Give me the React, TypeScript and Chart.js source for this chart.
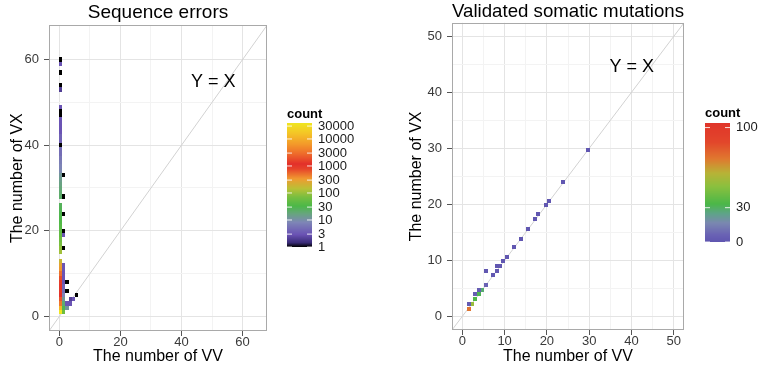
import React, { useEffect, useRef } from "react";
import { Chart, registerables } from "chart.js";

Chart.register(...registerables);

const FONT = "'Liberation Sans', Arial, Helvetica, sans-serif";

// ---------------- Left panel: Sequence errors ----------------
const seqTitle = "Sequence errors";
const seqAxisTicks = [0, 10, 20, 30, 40, 50, 60];
const seqAxisLabels = [0, 20, 40, 60];
// tiles: number of VV (bin start), number of VX, count
const seqVV = [
  0, 0, 0, 0, 0, 0, 0, 0, 0, 0, 0, 0, 0,
  0, 0, 0, 0, 0, 0, 0, 0, 0, 0, 0, 0,
  0, 0, 0, 0, 0, 0, 0, 0, 0, 0, 0, 0, 0, 0, 0, 0, 0, 0, 0, 0, 0, 0,
  0, 0, 0, 0, 0,
  1, 1, 1, 1, 1, 1, 1, 1, 1, 1, 1, 1,
  1, 1, 1, 1, 1, 1,
  2, 2, 3, 3, 4, 5, 2, 2,
];
const seqVX = [
  1, 2, 3, 4, 5, 6, 7, 8, 9, 10, 11, 12, 13,
  15, 16, 17, 18, 19, 20, 21, 22, 23, 24, 25, 26,
  28, 29, 30, 31, 32, 33, 34, 35, 36, 37, 38, 39, 40, 41, 42, 43, 44, 45, 46, 47, 48, 49,
  53, 54, 57, 59, 60,
  1, 2, 3, 4, 5, 6, 7, 8, 9, 10, 11, 12,
  16, 19, 20, 24, 28, 33,
  2, 3, 3, 4, 4, 5, 6, 8,
];
const seqCount = [
  39000, 12000, 3500, 2000, 1200, 1000, 1000, 900, 700, 500, 350, 280, 180,
  110, 90, 70, 60, 50, 45, 40, 35, 32, 30, 28, 26,
  22, 20, 18, 16, 14, 12, 9, 8, 7, 6, 5, 5, 1, 4, 4, 3, 3, 3, 3, 1, 1, 3,
  2, 1, 1, 3, 1,
  60, 30, 20, 12, 8, 5, 4, 3, 3, 3, 3, 3,
  1, 3, 1, 1, 1, 1,
  12, 3, 3, 2, 3, 1, 1, 1,
];
const seqLegendBreaks = [1, 3, 10, 30, 100, 300, 1000, 3000, 10000, 30000];
const seqCountLimits = [1, 39000];

// ---------------- Right panel: Validated somatic mutations ----------------
const mutTitle = "Validated somatic mutations";
const mutAxisTicks = [0, 5, 10, 15, 20, 25, 30, 35, 40, 45, 50];
const mutAxisLabels = [0, 10, 20, 30, 40, 50];
const mutVV = [29.7, 23.9, 20.5, 19.8, 18.0, 17.2, 15.6, 13.9, 12.3, 10.5, 9.7, 8.8, 8.1, 8.1, 7.3, 5.6, 5.6, 4.7, 3.9, 3.9, 3.1, 3.1, 2.3, 1.5, 1.5];
const mutVX = [29.8, 24.0, 20.6, 19.8, 18.2, 17.3, 15.6, 13.9, 12.3, 10.6, 9.8, 8.9, 8.9, 8.1, 7.3, 8.1, 5.6, 4.7, 4.7, 3.9, 3.9, 3.1, 2.2, 2.2, 1.3];
const mutCount = [1, 1, 1, 1, 1, 1, 1, 1, 1, 1, 1, 2, 1, 2, 1, 1, 6, 28, 4, 32, 4, 34, 52, 3, 74];
const mutLegendBreaks = [0, 30, 100];
const mutCountLimits = [0, 104];

const xTitle = "The number of VV";
const yTitle = "The number of VX";
const refLabel = "Y = X";

// ---------------- colour scales ----------------
const seqStops: [number, string][] = [
  [0.0, "#000000"],
  [0.035, "#3a2c78"],
  [0.1, "#6a52b4"],
  [0.2, "#7e86b6"],
  [0.27, "#66a67c"],
  [0.33, "#4cb848"],
  [0.4, "#76be40"],
  [0.47, "#b9c136"],
  [0.55, "#f09a30"],
  [0.63, "#e6432a"],
  [0.67, "#e3302a"],
  [0.75, "#ee6a2b"],
  [0.83, "#f39a2a"],
  [0.92, "#f4c626"],
  [1.0, "#efe620"],
];
const mutStops: [number, string][] = [
  [0.0, "#5f55b0"],
  [0.06, "#6a62b4"],
  [0.16, "#7a88b0"],
  [0.24, "#5ea487"],
  [0.32, "#4bb748"],
  [0.47, "#8cc03e"],
  [0.58, "#b8b236"],
  [0.7, "#e0782f"],
  [0.84, "#e2462b"],
  [1.0, "#e0352a"],
];

function hexRgb(h: string) {
  const n = parseInt(h.slice(1), 16);
  return [(n >> 16) & 255, (n >> 8) & 255, n & 255];
}
function gradient(stops: [number, string][], t: number) {
  const tt = Math.max(0, Math.min(1, t));
  for (let i = 1; i < stops.length; i++) {
    if (tt <= stops[i][0]) {
      const [t0, c0] = stops[i - 1];
      const [t1, c1] = stops[i];
      const k = (tt - t0) / (t1 - t0 || 1);
      const a = hexRgb(c0);
      const b = hexRgb(c1);
      return `rgb(${Math.round(a[0] + (b[0] - a[0]) * k)},${Math.round(a[1] + (b[1] - a[1]) * k)},${Math.round(a[2] + (b[2] - a[2]) * k)})`;
    }
  }
  return stops[stops.length - 1][1];
}
const seqT = (c: number) =>
  (Math.log10(c) - Math.log10(seqCountLimits[0])) / (Math.log10(seqCountLimits[1]) - Math.log10(seqCountLimits[0]));
const mutT = (c: number) => (c - mutCountLimits[0]) / (mutCountLimits[1] - mutCountLimits[0]);
const seqColor = (c: number) => gradient(seqStops, seqT(c));
const mutColor = (c: number) => gradient(mutStops, mutT(c));

// ---------------- plugins ----------------
// snapEdges: contiguous grid tiles; otherwise uniform-sized tiles centred on the value
function makeTilePlugin(datasetIndex: number, binW: number, binH: number, colorFn: (c: number) => string, snapEdges: boolean) {
  return {
    id: "tiles",
    afterDatasetsDraw(chart: any) {
      const { ctx, chartArea: a, scales } = chart;
      const xs = scales.x;
      const ys = scales.y;
      const ds = chart.data.datasets[datasetIndex];
      const pw = Math.round(Math.abs(xs.getPixelForValue(binW) - xs.getPixelForValue(0)));
      const ph = Math.round(Math.abs(ys.getPixelForValue(binH) - ys.getPixelForValue(0)));
      ctx.save();
      ctx.beginPath();
      ctx.rect(a.left, a.top, a.right - a.left, a.bottom - a.top);
      ctx.clip();
      ds.data.forEach((p: any) => {
        ctx.fillStyle = colorFn(p.count);
        if (snapEdges) {
          const x0 = Math.round(xs.getPixelForValue(p.x - binW / 2));
          const x1 = Math.round(xs.getPixelForValue(p.x + binW / 2));
          const y0 = Math.round(ys.getPixelForValue(p.y + binH / 2));
          const y1 = Math.round(ys.getPixelForValue(p.y - binH / 2));
          ctx.fillRect(x0, y0, x1 - x0, y1 - y0);
        } else {
          const x0 = Math.round(xs.getPixelForValue(p.x) - pw / 2);
          const y0 = Math.round(ys.getPixelForValue(p.y) - ph / 2);
          ctx.fillRect(x0, y0, pw, ph);
        }
      });
      ctx.restore();
    },
  };
}

function makeDecorPlugin(opts: {
  labelX: number;
  labelY: number;
  bar: { x: number; top: number; bottom: number; w: number; labelX: number; titleY: number };
  breaks: number[];
  toT: (c: number) => number;
  stops: [number, string][];
}) {
  return {
    id: "decor",
    afterDraw(chart: any) {
      const { ctx, chartArea: a, scales } = chart;
      // panel border
      ctx.save();
      ctx.strokeStyle = "#a9a9a9";
      ctx.lineWidth = 1;
      ctx.strokeRect(Math.round(a.left) + 0.5, Math.round(a.top) + 0.5, Math.round(a.right - a.left) - 1, Math.round(a.bottom - a.top) - 1);
      // Y = X label
      ctx.fillStyle = "#000";
      ctx.font = `18px ${FONT}`;
      ctx.textAlign = "center";
      ctx.textBaseline = "middle";
      ctx.fillText(refLabel, scales.x.getPixelForValue(opts.labelX), scales.y.getPixelForValue(opts.labelY));
      // colour bar
      const b = opts.bar;
      const h = b.bottom - b.top;
      for (let i = 0; i < h; i++) {
        const t = 1 - (i + 0.5) / h;
        ctx.fillStyle = gradient(opts.stops, t);
        ctx.fillRect(b.x, b.top + i, b.w, 1);
      }
      ctx.font = `13px ${FONT}`;
      ctx.textAlign = "left";
      ctx.textBaseline = "middle";
      opts.breaks.forEach((v) => {
        const y = b.bottom - opts.toT(v) * h;
        ctx.strokeStyle = "rgba(255,255,255,0.85)";
        ctx.beginPath();
        ctx.moveTo(b.x, y);
        ctx.lineTo(b.x + 5, y);
        ctx.moveTo(b.x + b.w - 5, y);
        ctx.lineTo(b.x + b.w, y);
        ctx.stroke();
        ctx.fillStyle = "#1a1a1a";
        ctx.fillText(String(v), b.labelX, y);
      });
      ctx.font = `bold 13px ${FONT}`;
      ctx.fillStyle = "#000";
      ctx.fillText("count", b.x, b.titleY);
      ctx.restore();
    },
  };
}

function axis(
  min: number,
  max: number,
  tickVals: number[],
  labelVals: number[],
  title: string,
  size: number,
  isX: boolean,
  titlePad: number
) {
  return {
    type: "linear",
    min,
    max,
    afterBuildTicks: (s: any) => {
      s.ticks = tickVals.map((v) => ({ value: v }));
    },
    afterFit: (s: any) => {
      if (isX) s.height = size;
      else s.width = size;
    },
    border: { display: false },
    grid: {
      color: (c: any) => (c.tick && labelVals.includes(c.tick.value) ? "#e4e4e4" : "#f3f3f3"),
      tickColor: (c: any) => (c.tick && labelVals.includes(c.tick.value) ? "#555555" : "rgba(0,0,0,0)"),
      tickLength: 5,
      lineWidth: 1,
    },
    ticks: {
      callback: (v: any) => (labelVals.includes(v) ? String(v) : ""),
      font: { family: FONT, size: 13, lineHeight: 1.1 },
      color: "#3a3a3a",
      padding: isX ? -1 : 5,
      maxRotation: 0,
      autoSkip: false,
    },
    title: {
      display: true,
      text: title,
      color: "#000",
      font: { family: FONT, size: 16 },
      padding: isX ? { top: 0, bottom: titlePad } : { top: titlePad, bottom: 0 },
    },
  };
}

function baseOptions(title: string, titlePad: { top: number; bottom: number }, padRight: number, xScale: any, yScale: any) {
  return {
    responsive: false,
    animation: false,
    events: [],
    layout: { padding: { left: 0, right: padRight, top: 0, bottom: 0 } },
    plugins: {
      legend: { display: false },
      tooltip: { enabled: false },
      title: {
        display: true,
        text: title,
        fullSize: false,
        color: "#000",
        font: { family: FONT, size: 19, weight: "normal", lineHeight: 1.2 },
        padding: titlePad,
      },
    },
    scales: { x: xScale, y: yScale },
  };
}

function diagonal() {
  return {
    type: "line",
    data: [
      { x: -10, y: -10 },
      { x: 100, y: 100 },
    ],
    borderColor: "#d2d2d2",
    borderWidth: 1,
    pointRadius: 0,
    showLine: true,
  };
}

function leftConfig(): any {
  const cells = seqVV.map((vv, i) => ({ x: vv + 0.5, y: seqVX[i], count: seqCount[i] }));
  const lim = [-3.4, 68];
  return {
    type: "scatter",
    data: { datasets: [diagonal(), { label: "count", data: cells, pointRadius: 0 }] },
    options: baseOptions(
      seqTitle,
      { top: 1, bottom: 1.5 },
      113,
      axis(lim[0], lim[1], seqAxisTicks, seqAxisLabels, xTitle, 45, true, 10),
      axis(lim[0], lim[1], seqAxisTicks, seqAxisLabels, yTitle, 49, false, 8)
    ),
    plugins: [
      makeTilePlugin(1, 1, 1, seqColor, true),
      makeDecorPlugin({
        labelX: 50.4,
        labelY: 54.7,
        bar: { x: 287, top: 123, bottom: 247, w: 25, labelX: 318, titleY: 114 },
        breaks: seqLegendBreaks,
        toT: seqT,
        stops: seqStops,
      }),
    ],
  };
}

function rightConfig(): any {
  const cells = mutVV.map((vv, i) => ({ x: vv, y: mutVX[i], count: mutCount[i] }));
  const lim = [-2.45, 52.45];
  return {
    type: "scatter",
    data: { datasets: [diagonal(), { label: "count", data: cells, pointRadius: 0 }] },
    options: baseOptions(
      mutTitle,
      { top: 0, bottom: 0 },
      74,
      axis(lim[0], lim[1], mutAxisTicks, mutAxisLabels, xTitle, 46, true, 10),
      axis(lim[0], lim[1], mutAxisTicks, mutAxisLabels, yTitle, 72, false, 27)
    ),
    plugins: [
      makeTilePlugin(1, 0.95, 0.72, mutColor, false),
      makeDecorPlugin({
        labelX: 40.1,
        labelY: 44.5,
        bar: { x: 325, top: 123, bottom: 242, w: 25, labelX: 356, titleY: 113 },
        breaks: mutLegendBreaks,
        toT: mutT,
        stops: mutStops,
      }),
    ],
  };
}

export default function App() {
  const leftRef = useRef<HTMLCanvasElement>(null);
  const rightRef = useRef<HTMLCanvasElement>(null);
  useEffect(() => {
    const c1 = new Chart(leftRef.current as HTMLCanvasElement, leftConfig());
    const c2 = new Chart(rightRef.current as HTMLCanvasElement, rightConfig());
    return () => {
      c1.destroy();
      c2.destroy();
    };
  }, []);
  return (
    <div style={{ position: "absolute", left: 0, top: 0, width: 758, height: 376, background: "#fff", overflow: "hidden" }}>
      <canvas ref={leftRef} width={380} height={376} style={{ position: "absolute", left: 0, top: 0, width: 380, height: 376 }} />
      <canvas ref={rightRef} width={378} height={376} style={{ position: "absolute", left: 380, top: 0, width: 378, height: 376 }} />
    </div>
  );
}
